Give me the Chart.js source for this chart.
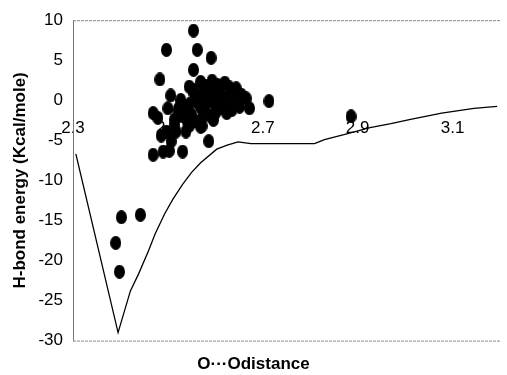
<!DOCTYPE html>
<html lang="en">
<head>
<meta charset="UTF-8">
<title>H-bond energy</title>
<script src="https://cdn.jsdelivr.net/npm/chart.js@4.4.1/dist/chart.umd.min.js"></script>
<style>
    html, body { margin: 0; padding: 0; background: #fff; overflow: hidden; }
    #wrap { width: 507px; height: 375px; }
</style>
</head>
<body>
<div id="wrap"><canvas id="chart" width="507" height="375"></canvas></div>
<script>
// scatter: computed H-bond energies
const dotsX = [
    2.402, 2.442, 2.390, 2.398,
    2.554, 2.497, 2.562, 2.591, 2.554, 2.483, 2.506,
    2.469, 2.479, 2.497, 2.514, 2.517, 2.507, 2.469, 2.490, 2.503, 2.531, 2.572, 2.586, 2.545, 2.538, 2.486,
    2.713, 2.672, 2.886, 2.665, 2.651, 2.644,
    2.545, 2.569, 2.593, 2.620, 2.624, 2.596, 2.569, 2.541, 2.521, 2.527, 2.555, 2.514,
    2.580, 2.600, 2.570, 2.550, 2.620, 2.590, 2.610, 2.630, 2.640, 2.545, 2.560, 2.580,
    2.600, 2.530, 2.500, 2.580, 2.605, 2.630, 2.655, 2.610, 2.635, 2.570, 2.540, 2.525,
    2.555, 2.590, 2.565, 2.595, 2.615, 2.575, 2.535, 2.620, 2.645, 2.555, 2.585, 2.605
];
const dotsY = [
    -14.6, -14.3, -17.8, -21.4,
    8.7, 6.3, 6.3, 5.3, 3.8, 2.6, 0.6,
    -1.6, -2.2, -3.9, -3.0, -3.9, -5.1, -6.8, -6.4, -6.3, -6.4, -3.2, -5.1, -3.2, -3.9, -4.4,
    -0.1, -1.0, -2.0, 0.25, -0.8, 1.5,
    1.7, 2.3, 2.45, 2.2, -1.6, -2.45, -3.3, -2.65, -1.2, 0.05, 0.9, -2.4,
    0.5, -0.5, -1.0, -1.8, 0.0, 1.2, 1.0, 0.6, -0.3, -0.5, 0.0, -1.5,
    -1.6, -2.0, -1.0, 1.8, 1.9, 1.6, 0.7, -1.0, -1.2, -2.4, -1.0, -0.8,
    -2.6, -2.0, -0.5, 0.3, 0.3, 1.0, -1.5, -0.8, 0.9, 1.3, -0.2, -0.1
];

// potential curve
const lineX = [2.306, 2.395, 2.421, 2.438, 2.459, 2.473, 2.493, 2.510, 2.531, 2.550, 2.569, 2.603,
    2.625, 2.648, 2.675, 2.720, 2.760, 2.809, 2.830, 2.871, 2.926, 2.970, 3.009, 3.077, 3.145, 3.194];
const lineY = [-6.7, -29.0, -23.8, -21.7, -18.8, -16.7, -14.2, -12.4, -10.5, -9.0, -7.8, -6.1,
    -5.6, -5.2, -5.4, -5.4, -5.4, -5.4, -4.9, -4.3, -3.4, -2.9, -2.4, -1.6, -1.0, -0.75];

const xTickValues = [2.3, 2.5, 2.7, 2.9, 3.1];
const yTickStep = 5;

// black ellipse marker
const dot = document.createElement('canvas');
dot.width = 11;
dot.height = 14;
const dctx = dot.getContext('2d');
dctx.fillStyle = '#000';
dctx.beginPath();
dctx.ellipse(5.5, 7, 5.5, 7, 0, 0, Math.PI * 2);
dctx.fill();

const frame = {
    id: 'frame',
    beforeDatasetsDraw(chart) {
        const { ctx, chartArea: a } = chart;
        ctx.save();
        ctx.strokeStyle = '#888';
        ctx.lineWidth = 1;
        ctx.setLineDash([3, 1]);
        ctx.beginPath();
        ctx.moveTo(a.left, a.top + 0.5);
        ctx.lineTo(a.right, a.top + 0.5);
        ctx.moveTo(a.left, a.bottom + 0.5);
        ctx.lineTo(a.right, a.bottom + 0.5);
        ctx.stroke();
        ctx.restore();
    }
};

const font = "'Liberation Sans', Arial, sans-serif";

new Chart(document.getElementById('chart'), {
    type: 'scatter',
    data: {
        datasets: [{
            data: lineX.map((x, i) => ({ x, y: lineY[i] })),
            showLine: true,
            borderColor: '#000',
            borderWidth: 1.3,
            pointRadius: 0,
            tension: 0
        }, {
            data: dotsX.map((x, i) => ({ x, y: dotsY[i] })),
            pointStyle: dot,
            pointRadius: 6
        }]
    },
    plugins: [frame],
    options: {
        responsive: false,
        animation: false,
        layout: { padding: { top: 19, right: 0, left: 0, bottom: 0 } },
        plugins: {
            legend: { display: false },
            tooltip: { enabled: false },
            title: {
                display: true,
                position: 'bottom',
                text: 'O···Odistance',
                color: '#000',
                font: { family: font, size: 17, weight: 'bold' },
                padding: { top: 14, bottom: 0 }
            }
        },
        scales: {
            x: {
                type: 'linear',
                position: { y: 0 },
                min: 2.3,
                max: 3.2,
                afterBuildTicks: s => { s.ticks = xTickValues.map(v => ({ value: v })); },
                grid: { display: false, drawTicks: false },
                border: { display: false },
                ticks: {
                    color: '#000',
                    padding: 18,
                    maxRotation: 0,
                    font: { family: font, size: 17 },
                    callback: v => v.toFixed(1)
                }
            },
            y: {
                min: -30,
                max: 10,
                afterFit: s => { s.width = 73; },
                grid: { display: false, drawTicks: false },
                border: { display: true, color: '#777', width: 1 },
                ticks: {
                    stepSize: yTickStep,
                    color: '#000',
                    padding: 10,
                    font: { family: font, size: 17 }
                },
                title: {
                    display: true,
                    text: 'H-bond energy (Kcal/mole)',
                    color: '#000',
                    font: { family: font, size: 17, weight: 'bold' },
                    padding: { top: 10, bottom: 0 }
                }
            }
        }
    }
});
</script>
</body>
</html>
